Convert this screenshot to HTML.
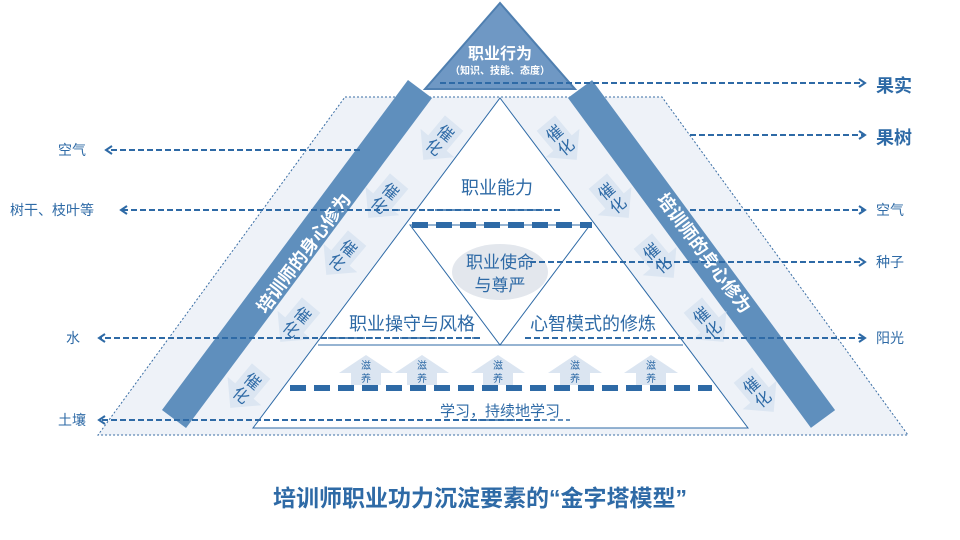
<!DOCTYPE html>
<html><head><meta charset="utf-8"><style>
body{margin:0;background:#fff;}
svg{display:block;font-family:"Liberation Sans","Noto Sans CJK SC",sans-serif;}
</style></head><body>
<svg width="960" height="540" viewBox="0 0 960 540">
<defs>
<marker id="ah" markerWidth="10" markerHeight="10" refX="7" refY="5" orient="auto" markerUnits="userSpaceOnUse">
<path d="M1,1 L7,5 L1,9" fill="none" stroke="#2e6aa6" stroke-width="2"/></marker>
<g id="cat"><path d="M-12,-22 L12,-22 L12,4 L22,4 L0,26 L-22,4 L-12,4 Z" fill="#d9e4f1" opacity="0.9"/></g>
</defs>
<path d="M345,97 L662,97 L908,435 L98,435 Z" fill="#eef2f8" stroke="#3a6ea5" stroke-width="1" stroke-dasharray="2,2"/>
<path d="M500,98 L748,428 L253,428 Z" fill="#fff" stroke="#2e6aa6" stroke-width="1"/>
<path d="M410,225 L590,225 L500,345 Z" fill="none" stroke="#2e6aa6" stroke-width="1"/>
<line x1="318" y1="345" x2="683" y2="345" stroke="#2e6aa6" stroke-width="1"/>
<line x1="420" y1="89" x2="174" y2="419" stroke="#5f8fbd" stroke-width="30"/>
<line x1="580" y1="89" x2="823" y2="419" stroke="#5f8fbd" stroke-width="30"/>
<text transform="translate(305,254) rotate(-53.3)" text-anchor="middle" dominant-baseline="middle" font-size="18" font-weight="bold" fill="#fff">培训师的身心修为</text>
<text transform="translate(703,254) rotate(53.3)" text-anchor="middle" dominant-baseline="middle" font-size="18" font-weight="bold" fill="#fff">培训师的身心修为</text>
<g font-size="16" fill="#2e6aa6" text-anchor="middle">
<g transform="translate(440,140) rotate(40)"><use href="#cat"/><text x="0" y="-3">催</text><text x="0" y="15">化</text></g>
<g transform="translate(385,198) rotate(40)"><use href="#cat"/><text x="0" y="-3">催</text><text x="0" y="15">化</text></g>
<g transform="translate(343,255) rotate(40)"><use href="#cat"/><text x="0" y="-3">催</text><text x="0" y="15">化</text></g>
<g transform="translate(297,322) rotate(40)"><use href="#cat"/><text x="0" y="-3">催</text><text x="0" y="15">化</text></g>
<g transform="translate(247,388) rotate(40)"><use href="#cat"/><text x="0" y="-3">催</text><text x="0" y="15">化</text></g>
<g transform="translate(560,140) rotate(-40)"><use href="#cat"/><text x="0" y="-3">催</text><text x="0" y="15">化</text></g>
<g transform="translate(612,198) rotate(-40)"><use href="#cat"/><text x="0" y="-3">催</text><text x="0" y="15">化</text></g>
<g transform="translate(657,258) rotate(-40)"><use href="#cat"/><text x="0" y="-3">催</text><text x="0" y="15">化</text></g>
<g transform="translate(707,322) rotate(-40)"><use href="#cat"/><text x="0" y="-3">催</text><text x="0" y="15">化</text></g>
<g transform="translate(757,392) rotate(-40)"><use href="#cat"/><text x="0" y="-3">催</text><text x="0" y="15">化</text></g>
</g>
<path d="M500,3 L575,89 L425,89 Z" fill="#6f98c4" stroke="#4f7fb0" stroke-width="2"/>
<text x="500" y="59" text-anchor="middle" font-size="16" font-weight="bold" fill="#fff">职业行为</text>
<text x="500" y="74" text-anchor="middle" font-size="10" font-weight="bold" fill="#fff">（知识、技能、态度）</text>
<ellipse cx="500" cy="272" rx="48" ry="28" fill="#e3e7ed"/>
<g fill="#2e6aa6" font-size="17" text-anchor="middle">
<text x="497" y="194" font-size="18">职业能力</text>
<text x="500" y="268">职业使命</text>
<text x="500" y="291">与尊严</text>
<text x="412" y="330" font-size="18">职业操守与风格</text>
<text x="593" y="330" font-size="18">心智模式的修炼</text>
<text x="500" y="416" font-size="15">学习，持续地学习</text>
</g>
<g font-size="10" fill="#2e6aa6" text-anchor="middle">
<g transform="translate(366,355)"><path d="M0,0 L27,18 L15,18 L15,30 L-15,30 L-15,18 L-27,18 Z" fill="#dbe5f1"/><text y="14">滋</text><text y="27">养</text></g>
<g transform="translate(422,355)"><path d="M0,0 L27,18 L15,18 L15,30 L-15,30 L-15,18 L-27,18 Z" fill="#dbe5f1"/><text y="14">滋</text><text y="27">养</text></g>
<g transform="translate(498,355)"><path d="M0,0 L27,18 L15,18 L15,30 L-15,30 L-15,18 L-27,18 Z" fill="#dbe5f1"/><text y="14">滋</text><text y="27">养</text></g>
<g transform="translate(575,355)"><path d="M0,0 L27,18 L15,18 L15,30 L-15,30 L-15,18 L-27,18 Z" fill="#dbe5f1"/><text y="14">滋</text><text y="27">养</text></g>
<g transform="translate(651,355)"><path d="M0,0 L27,18 L15,18 L15,30 L-15,30 L-15,18 L-27,18 Z" fill="#dbe5f1"/><text y="14">滋</text><text y="27">养</text></g>
</g>
<g stroke="#2e6aa6" stroke-width="6" stroke-dasharray="16,8">
<line x1="412" y1="225" x2="592" y2="225"/>
<line x1="290" y1="388" x2="712" y2="388"/>
</g>
<g stroke="#2e6aa6" stroke-width="1.5" stroke-dasharray="5,3">
<line x1="395" y1="210" x2="562" y2="210"/>
<line x1="320" y1="338" x2="480" y2="338"/>
<line x1="470" y1="420" x2="570" y2="420"/>
</g>
<g stroke="#2e6aa6" stroke-width="2" stroke-dasharray="6,3" marker-end="url(#ah)">
<line x1="360" y1="150" x2="106" y2="150"/>
<line x1="560" y1="210" x2="121" y2="210"/>
<line x1="480" y1="338" x2="99" y2="338"/>
<line x1="540" y1="420" x2="99" y2="420"/>
<line x1="440" y1="83" x2="865" y2="83"/>
<line x1="690" y1="135" x2="865" y2="135"/>
<line x1="690" y1="210" x2="865" y2="210"/>
<line x1="530" y1="262" x2="865" y2="262"/>
<line x1="525" y1="338" x2="865" y2="338"/>
</g>
<g fill="#2e6aa6" font-size="14">
<text x="58" y="155">空气</text>
<text x="10" y="215">树干、枝叶等</text>
<text x="66" y="343">水</text>
<text x="58" y="425">土壤</text>
<text x="876" y="92" font-size="18" font-weight="bold">果实</text>
<text x="876" y="144" font-size="18" font-weight="bold">果树</text>
<text x="876" y="215">空气</text>
<text x="876" y="267">种子</text>
<text x="876" y="343">阳光</text>
</g>
<text x="480" y="506" text-anchor="middle" font-size="23" font-weight="bold" fill="#2e6aa6">培训师职业功力沉淀要素的“金字塔模型”</text>
</svg>
</body></html>
